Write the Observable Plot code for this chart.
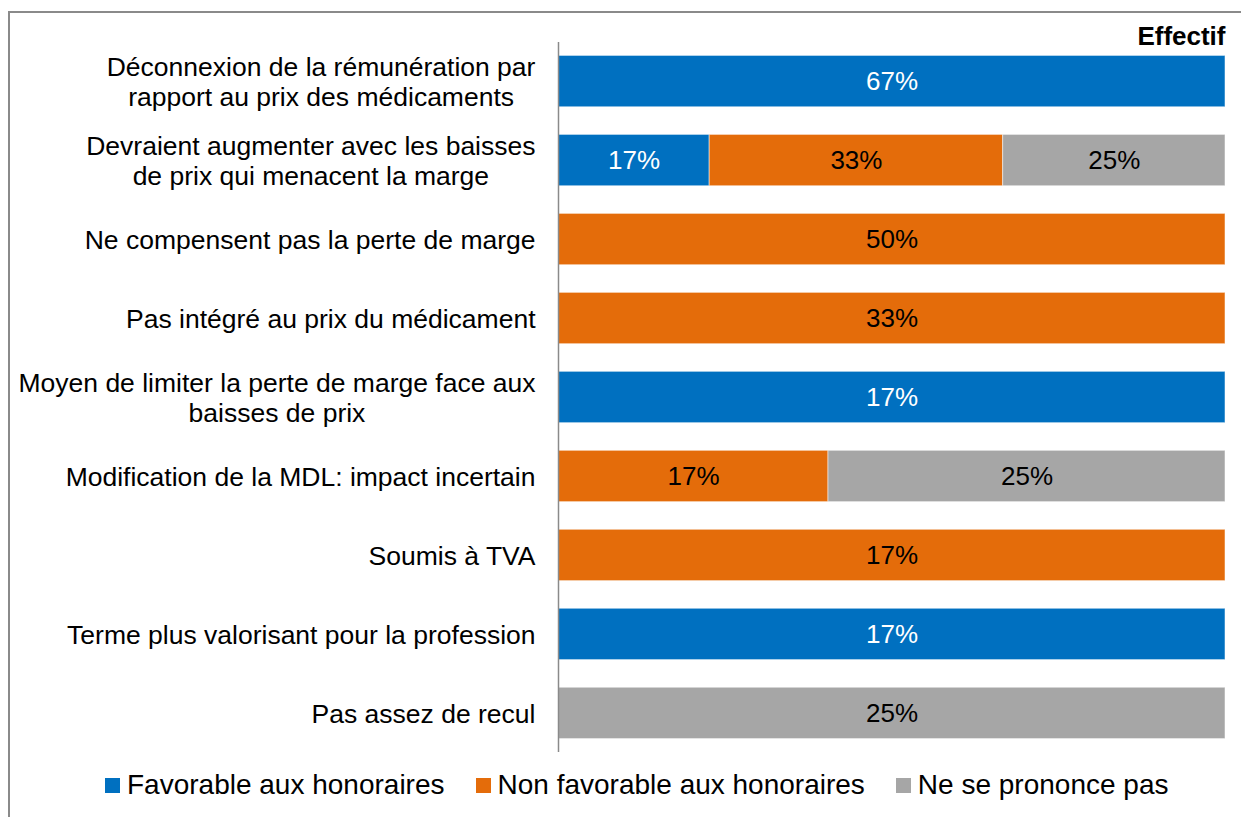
<!DOCTYPE html>
<html>
<head>
<meta charset="utf-8">
<script src="https://cdn.jsdelivr.net/npm/d3@7"></script>
<script src="https://cdn.jsdelivr.net/npm/@observablehq/plot@0.6"></script>
<style>
  html, body { margin: 0; padding: 0; background: #fff; }
  body { font-family: "Liberation Sans", Arial, sans-serif; width: 1241px; height: 817px; overflow: hidden; position: relative; }
  #frame { position: absolute; left: 8px; top: 11px; width: 1400px; height: 1000px;
           border-left: 2px solid #8a8a8a; border-top: 2px solid #8a8a8a; z-index: 0; }
  #chart { position: relative; z-index: 1; }
  #chart svg { display: block; background: transparent; }
  #legend { position: relative; z-index: 1; display: flex; align-items: center; height: 50px;
            padding-left: 105px; font-size: 28px; color: #000; white-space: nowrap; }
  #legend .item { display: flex; align-items: center; margin-right: 31px; }
  #legend .sw { width: 15px; height: 15px; margin-right: 7px; display: inline-block; }
</style>
</head>
<body>
<div id="frame"></div>
<div id="chart"></div>
<div id="legend"></div>
<script>
const categories = [
  "Déconnexion de la rémunération par rapport au prix des médicaments",
  "Devraient augmenter avec les baisses de prix qui menacent la marge",
  "Ne compensent pas la perte de marge",
  "Pas intégré au prix du médicament",
  "Moyen de limiter la perte de marge face aux baisses de prix",
  "Modification de la MDL: impact incertain",
  "Soumis à TVA",
  "Terme plus valorisant pour la profession",
  "Pas assez de recul"
];
const categoryLabels = [
  "Déconnexion de la rémunération par\nrapport au prix des médicaments",
  "Devraient augmenter avec les baisses\nde prix qui menacent la marge",
  "Ne compensent pas la perte de marge",
  "Pas intégré au prix du médicament",
  "Moyen de limiter la perte de marge face aux\nbaisses de prix",
  "Modification de la MDL: impact incertain",
  "Soumis à TVA",
  "Terme plus valorisant pour la profession",
  "Pas assez de recul"
];
const seriesNames = ["Favorable aux honoraires", "Non favorable aux honoraires", "Ne se prononce pas"];
const favorable    = [67, 17, 0, 0, 17, 0, 0, 17, 0];
const nonFavorable = [0, 33, 50, 33, 0, 17, 17, 0, 0];
const noOpinion    = [0, 25, 0, 0, 0, 25, 0, 0, 25];
const seriesColors = ["#0070C0", "#E46C0A", "#A6A6A6"];
const valueTextColors = ["#ffffff", "#000000", "#000000"];
const cornerLabel = "Effectif";

const seriesValues = [favorable, nonFavorable, noOpinion];
const rows = [];
categories.forEach((c, i) => {
  seriesValues.forEach((vals, s) => {
    if (vals[i] > 0) rows.push({category: c, series: seriesNames[s], si: s, value: vals[i]});
  });
});
const labelOf = new Map(categories.map((c, i) => [c, categoryLabels[i]]));

const chart = Plot.plot({
  width: 1241,
  height: 760,
  marginLeft: 558,
  marginRight: 16,
  marginTop: 42,
  marginBottom: 8,
  style: {fontFamily: "'Liberation Sans', Arial, sans-serif", fontSize: "26px", color: "#000", background: "transparent"},
  x: {axis: null, domain: [0, 1]},
  y: {domain: categories, paddingInner: 0.35, paddingOuter: 0.17, round: false, axis: null},
  color: {domain: seriesNames, range: seriesColors},
  marks: [
    Plot.barX(rows, Plot.stackX({offset: "normalize", x: "value", y: "category", z: "series",
      fill: "series", stroke: "#ffffff", strokeOpacity: 0.5, strokeWidth: 1})),
    Plot.text(rows, Plot.stackX({offset: "normalize", x: "value", y: "category", z: "series",
      text: d => d.value + "%", fill: d => valueTextColors[d.si], fontSize: 26})),
    Plot.ruleX([0], {stroke: "#8a8a8a", strokeWidth: 1.5}),
    Plot.axisY({tickSize: 0, tickPadding: 23, label: null, tickFormat: d => labelOf.get(d),
      fontSize: 26.5, lineHeight: 1.13, fill: "#000"}),
    Plot.text([cornerLabel], {frameAnchor: "top-right", lineAnchor: "middle", dy: -6,
      fontWeight: "bold", fontSize: 26, fill: "#000"})
  ]
});
document.getElementById("chart").append(chart);

// centre the lines of multi-line category labels within their right-aligned block
chart.querySelectorAll('g[aria-label="y-axis tick label"] text').forEach(t => {
  const spans = t.querySelectorAll("tspan");
  if (spans.length > 1) {
    const w = t.getBBox().width;
    t.setAttribute("text-anchor", "middle");
    spans.forEach(s => s.setAttribute("x", -w / 2));
  }
});

const legend = document.getElementById("legend");
seriesNames.forEach((name, i) => {
  const item = document.createElement("span");
  item.className = "item";
  const sw = document.createElement("span");
  sw.className = "sw";
  sw.style.background = seriesColors[i];
  item.append(sw, document.createTextNode(name));
  legend.append(item);
});
</script>
</body>
</html>
